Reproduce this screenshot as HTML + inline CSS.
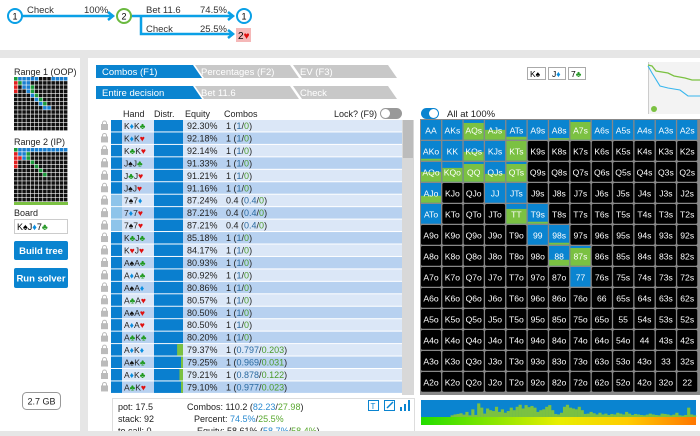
<!DOCTYPE html>
<html><head><meta charset="utf-8">
<style>
body{margin:0;width:700px;height:431px;overflow:hidden;background:#e6e6e6;font-family:"Liberation Sans",sans-serif;}
svg text{font-family:"Liberation Sans",sans-serif;}
</style></head>
<body>
<svg id="s" width="700" height="431" xmlns="http://www.w3.org/2000/svg">
<rect x="0" y="0" width="700" height="50" fill="#fff"/>
<rect x="0" y="58" width="80" height="373" fill="#fff"/>
<rect x="88" y="58" width="612" height="373" fill="#fff"/>
<g stroke="#0aa0e6" stroke-width="2.5" fill="none">
<line x1="22" y1="16" x2="112" y2="16"/><polyline points="108,12 113,16 108,20"/>
<line x1="131" y1="16" x2="232" y2="16"/><polyline points="228,12 233,16 228,20"/>
<polyline points="141,17 141,34 232,34"/><polyline points="228,30 233,34 228,38"/>
</g>
<circle cx="15" cy="16" r="7" fill="#fff" stroke="#0aa0e6" stroke-width="2"/>
<text x="15" y="19.5" font-size="9" text-anchor="middle">1</text>
<circle cx="124" cy="16" r="7" fill="#fff" stroke="#6ab93f" stroke-width="2"/>
<text x="124" y="19.5" font-size="9" text-anchor="middle">2</text>
<circle cx="244" cy="16" r="7" fill="#fff" stroke="#0aa0e6" stroke-width="2"/>
<text x="244" y="19.5" font-size="9" text-anchor="middle">1</text>
<rect x="236" y="28" width="15" height="14" fill="#f5b8b8"/>
<text x="238" y="39" font-size="10">2<tspan fill="#e01010">♥</tspan></text>
<g font-size="9.5" fill="#333">
<text x="27" y="13">Check</text><text x="84" y="13">100%</text>
<text x="146" y="13">Bet 11.6</text><text x="200" y="13">74.5%</text>
<text x="146" y="32">Check</text><text x="200" y="32">25.5%</text>
</g>
<!-- left panel -->
<text x="14" y="75" font-size="9" fill="#222">Range 1 (OOP)</text>
<g id="r1"></g>
<text x="14" y="145" font-size="9" fill="#222">Range 2 (IP)</text>
<g id="r2"></g>
<rect x="14" y="202" width="54" height="3" fill="#7bc142"/>
<text x="14" y="216" font-size="9" fill="#222">Board</text>
<rect x="14.5" y="219.5" width="53" height="14" fill="#fff" stroke="#ccc"/>
<text x="17" y="230" font-size="9">K<tspan>♠</tspan>J<tspan fill="#0a8ee0">♦</tspan>7<tspan fill="#2a9a2a">♣</tspan></text>
<rect x="14" y="241" width="54" height="19" rx="2" fill="#0a84d0"/>
<text x="41" y="254" font-size="9.5" fill="#fff" text-anchor="middle" font-weight="bold">Build tree</text>
<rect x="14" y="268" width="54" height="20" rx="2" fill="#0a84d0"/>
<text x="41" y="281.5" font-size="9.5" fill="#fff" text-anchor="middle" font-weight="bold">Run solver</text>
<rect x="22.5" y="392.5" width="38" height="17" rx="4" fill="#fff" stroke="#999"/>
<text x="41.5" y="404.5" font-size="9" text-anchor="middle" fill="#222">2.7 GB</text>
<!-- tabs -->
<g font-size="9.5">
<polygon points="96,65 193,65 202,78 96,78" fill="#0a84d0"/>
<text x="102" y="75" fill="#fff">Combos (F1)</text>
<polygon points="195,65 290,65 299,78 204,78" fill="#c8c8c8"/>
<text x="201" y="75" fill="#fff">Percentages (F2)</text>
<polygon points="293,65 388,65 397,78 302,78" fill="#c8c8c8"/>
<text x="300" y="75" fill="#fff">EV (F3)</text>
<polygon points="96,86 193,86 202,99 96,99" fill="#0a84d0"/>
<text x="102" y="96" fill="#fff">Entire decision</text>
<polygon points="195,86 290,86 299,99 204,99" fill="#c8c8c8"/>
<text x="201" y="96" fill="#fff">Bet 11.6</text>
<polygon points="293,86 388,86 397,99 302,99" fill="#c8c8c8"/>
<text x="300" y="96" fill="#fff">Check</text>
</g>
<g font-size="8.5">
<rect x="527.5" y="67.5" width="18" height="12" fill="#fff" stroke="#aaa"/><text x="530" y="77">K♠</text>
<rect x="548.5" y="67.5" width="17" height="12" fill="#fff" stroke="#aaa"/><text x="552" y="77">J<tspan fill="#0a8ee0">♦</tspan></text>
<rect x="568.5" y="67.5" width="17" height="12" fill="#fff" stroke="#aaa"/><text x="571" y="77">7<tspan fill="#2a9a2a">♣</tspan></text>
</g>
<g>
<rect x="648" y="62" width="52" height="52" fill="#f3f3f3"/>
<line x1="648.5" y1="62" x2="648.5" y2="114" stroke="#ccc"/>
<polyline points="648,65 652,66 656,71 668,73 674,76 685,78 692,80 700,80" fill="none" stroke="#7bc142" stroke-width="1.3"/>
<polyline points="648,66 652,73 660,86 664,87 668,88 680,90 688,96 694,96 700,96" fill="none" stroke="#37b6ee" stroke-width="1.1"/>
<circle cx="654" cy="109" r="3" fill="#7bc142"/>
</g>
<!-- table header -->
<g font-size="9" fill="#222">
<text x="123" y="117">Hand</text><text x="154" y="117">Distr.</text><text x="185" y="117">Equity</text><text x="224" y="117">Combos</text>
<text x="334" y="117">Lock? (F9)</text>
</g>
<rect x="380" y="108" width="22" height="11" rx="5.5" fill="#999"/>
<circle cx="385.5" cy="113.5" r="4.5" fill="#fff"/>
<rect x="402" y="120" width="12" height="275" fill="#d8d8d8"/>
<rect x="403" y="120" width="10" height="38" fill="#bcbcbc"/>
<g id="tbl"></g>
<!-- info box -->
<rect x="112.5" y="398.5" width="302" height="40" fill="#fff" stroke="#ddd"/>
<g font-size="9" fill="#222">
<text x="118" y="410">pot: 17.5</text><text x="118" y="422">stack: 92</text><text x="118" y="434">to call: 0</text>
<text x="187" y="410">Combos: 110.2 (<tspan fill="#2a8ad0">82.23</tspan>/<tspan fill="#5aa830">27.98</tspan>)</text>
<text x="194" y="422">Percent: <tspan fill="#2a8ad0">74.5%</tspan>/<tspan fill="#5aa830">25.5%</tspan></text>
<text x="197" y="434">Equity: 58.61% (<tspan fill="#2a8ad0">58.7%</tspan>/<tspan fill="#5aa830">58.4%</tspan>)</text>
</g>
<g>
<rect x="368.5" y="400.5" width="10" height="10" fill="none" stroke="#0a84d0"/><text x="370.5" y="409" font-size="8" fill="#0a84d0">T</text>
<rect x="384.5" y="400.5" width="10" height="10" fill="none" stroke="#0a84d0"/><line x1="387" y1="408" x2="393" y2="402" stroke="#0a84d0" stroke-width="1.5"/>
<rect x="400" y="407" width="2" height="4" fill="#0a84d0"/><rect x="404" y="404" width="2" height="7" fill="#0a84d0"/><rect x="408" y="400" width="2" height="11" fill="#0a84d0"/>
</g>
<!-- grid -->
<rect x="421" y="108" width="18" height="11" rx="5.5" fill="#0a84d0"/>
<circle cx="433.5" cy="113.5" r="4.5" fill="#fff"/>
<text x="447" y="117" font-size="9.5" fill="#222">All at 100%</text>
<rect x="420" y="119" width="280" height="276" fill="#888"/>
<g id="grid"></g>
<g id="hist"></g>
<defs><linearGradient id="eqg" x1="0" x2="1"><stop offset="0" stop-color="#22dd00"/><stop offset="0.5" stop-color="#e8ee00"/><stop offset="0.75" stop-color="#ffcc00"/><stop offset="1" stop-color="#ff7700"/></linearGradient></defs>
<rect x="421" y="417" width="275" height="8" fill="url(#eqg)"/>
</svg>
<script>
const NS="http://www.w3.org/2000/svg";
const hands=["K♦K♣","K♦K♥","K♣K♥","J♠J♣","J♣J♥","J♠J♥","7♠7♦","7♦7♥","7♠7♥","K♣J♣","K♥J♥","A♠A♣","A♦A♣","A♠A♦","A♣A♥","A♠A♥","A♦A♥","A♣K♣","A♦K♦","A♠K♣","A♦K♣","A♣K♥"];
const equities=[92.30,92.18,92.14,91.33,91.21,91.16,87.24,87.21,87.21,85.18,84.17,80.93,80.92,80.86,80.57,80.50,80.50,80.20,79.37,79.25,79.21,79.10];
const combos=[1,1,1,1,1,1,0.4,0.4,0.4,1,1,1,1,1,1,1,1,1,1,1,1,1];
const betPart=["1","1","1","1","1","1","0.4","0.4","0.4","1","1","1","1","1","1","1","1","1","0.797","0.969","0.878","0.977"];
const checkPart=["0","0","0","0","0","0","0","0","0","0","0","0","0","0","0","0","0","0","0.203","0.031","0.122","0.023"];
const ranks=["A","K","Q","J","T","9","8","7","6","5","4","3","2"];
// per grid cell: [blue fraction, green fraction] for non-black cells (key: label)
const played={"AA":[1,0],"AKs":[1,0],"AQs":[0.15,0.85],"AJs":[0.5,0.5],"ATs":[0.85,0.15],"A9s":[1,0],"A8s":[0.92,0.08],"A7s":[0.1,0.9],"A6s":[1,0],"A5s":[1,0],"A4s":[1,0],"A3s":[1,0],"A2s":[1,0],
"AKo":[0.9,0.1],"KK":[1,0],"KQs":[0.55,0.45],"KJs":[1,0],"KTs":[0,1],
"AQo":[0.5,0.5],"KQo":[0.3,0.7],"QQ":[0.1,0.9],"QJs":[0.6,0.4],"QTs":[0.1,0.9],
"AJo":[0.65,0.35],"JJ":[1,0],"JTs":[1,0],
"ATo":[1,0],"TT":[0.25,0.75],"T9s":[0.9,0.1],
"99":[1,0],"98s":[0.9,0.1],"88":[0.7,0.3],"87s":[0.1,0.9],"77":[1,0]};
const histVals=[0,0,0,0,0,0,0,0,0,0,10,15,18,22,14,30,10,45,12,80,55,20,50,40,35,60,30,45,25,35,55,40,60,72,50,70,58,65,55,30,40,45,60,70,40,18,15,25,60,72,55,50,45,60,40,18,20,30,22,15,25,15,20,12,18,15,25,20,15,30,20,12,18,15,12,10,14,20,15,12,10,20,18,15,10,14,25,10,8,12,55,15,10];
const suitCol={"♠":"#111","♣":"#1f9a1f","♦":"#0a8ee0","♥":"#e01010"};
function el(t,a,p,txt){const e=document.createElementNS(NS,t);for(const k in a)e.setAttribute(k,a[k]);if(txt!=null)e.textContent=txt;p.appendChild(e);return e;}
// table
const tbl=document.getElementById('tbl');
const rowH=12.45,y0=120;
hands.forEach((h,i)=>{
 const y=y0+i*rowH;
 const g=el('g',{},tbl);
 
 
 el('rect',{x:111,y:y,width:291,height:rowH-1,fill:i%2?'#b7d1f0':'#dbe7f7'},g);
 // lock
 el('rect',{x:101,y:y+4,width:7,height:6,fill:'#bbb'},g);
 el('path',{d:`M102.5 ${y+4.5} v-1.5 a2 2 0 0 1 4 0 v1.5`,fill:'none',stroke:'#bbb'},g);
 el('rect',{x:111,y:y,width:11,height:rowH-1,fill:combos[i]<1?'#8ec4ea':'#0a7fcf'},g);
 el('rect',{x:154,y:y,width:29,height:rowH-1,fill:'#0a7fcf'},g);
 const gf=parseFloat(checkPart[i]);
 if(gf>0){const w=Math.max(2,gf*29);el('rect',{x:183-w,y:y,width:w,height:rowH-1,fill:'#7bc142'},g);}
 const t=el('text',{x:124,y:y+9,'font-size':8.5,fill:'#222'},g);
 for(const ch of h){const ts=el('tspan',{},t,ch);if(suitCol[ch])ts.setAttribute('fill',suitCol[ch]);}
 el('text',{x:187,y:y+9,'font-size':9,fill:'#222'},g,equities[i].toFixed(2)+'%');
 const c=el('text',{x:226,y:y+9,'font-size':9,fill:'#222'},g,combos[i]+' (');
 el('tspan',{fill:'#2a6aa0'},c,betPart[i]);el('tspan',{},c,'/');el('tspan',{fill:'#4a9a2a'},c,checkPart[i]);el('tspan',{},c,')');
});
// grid
const grid=document.getElementById('grid');
const cw=21.35,ch=21,gx=421,gy=120;
for(let r=0;r<13;r++)for(let c=0;c<13;c++){
 let lab=r==c?ranks[r]+ranks[c]:(c>r?ranks[r]+ranks[c]+'s':ranks[c]+ranks[r]+'o');
 const x=gx+c*cw,y=gy+r*ch;
 const g=el('g',{},grid);
 
 
 const p=played[lab];
 if(p){
  el('rect',{x:x,y:y,width:cw-1.3,height:ch-1.3,fill:'#0a84d0'},g);
  const gh=(ch-1.3)*p[1];
  if(gh>0)el('rect',{x:x,y:y+ch-1.3-gh,width:cw-1.3,height:gh,fill:'#7bc142'},g);
 } else el('rect',{x:x,y:y,width:cw-1.3,height:ch-1.3,rx:1.5,fill:'#000'},g);
 el('text',{x:x+(cw-1.3)/2,y:y+13.5,'font-size':8.6,fill:'#fff','text-anchor':'middle'},g,lab);
}
// ranges mini
function mini(id,y,cols){const g=document.getElementById(id);const s=54/13;
 for(let r=0;r<13;r++)for(let c=0;c<13;c++){
  let f='#111';const k=r+','+c;if(cols[k])f=cols[k];
  el('rect',{x:14+c*s,y:y+r*s,width:s-0.6,height:s-0.6,fill:f},g);}}
const c1={},c2={};
[[0,4],[0,5],[0,9],[0,10],[0,11],[0,12],[1,1],[1,2],[2,2],[2,3],[3,3],[3,4],[4,4],[5,5],[5,6],[6,6],[7,7],[7,8],[0,1],[0,2],[0,3],[1,3]].forEach(a=>c1[a]='#1a7fd0');
[[1,0],[2,0],[3,0]].forEach(a=>c1[a]='#e02020');[[0,0],[1,1],[2,4],[3,4],[4,5],[5,6],[6,7]].forEach(a=>c1[a]='#1a9a3a');
for(let c=1;c<13;c++)c2[[0,c]]='#1a7fd0';c2[[1,1]]='#1a7fd0';c2[[1,2]]='#1a7fd0';c2[[2,2]]='#1a7fd0';
[[1,0],[2,0],[3,0],[4,0],[2,1]].forEach(a=>c2[a]='#e02020');[[0,0],[2,3],[3,4],[4,5],[5,6],[6,7],[1,3]].forEach(a=>c2[a]='#1a9a3a');
mini('r1',77,c1);mini('r2',148,c2);
// histogram
const hist=document.getElementById('hist');
el('rect',{x:421,y:400,width:275,height:17,fill:'#0a84d0'},hist);
const bw=275/histVals.length;
histVals.forEach((v,i)=>{const h=v/100*17;if(h>0){const r=el('rect',{x:421+i*bw,y:417-h,width:bw+0.2,height:h,fill:'#7bc142'},hist);
 
 }});
</script>
</body></html>
